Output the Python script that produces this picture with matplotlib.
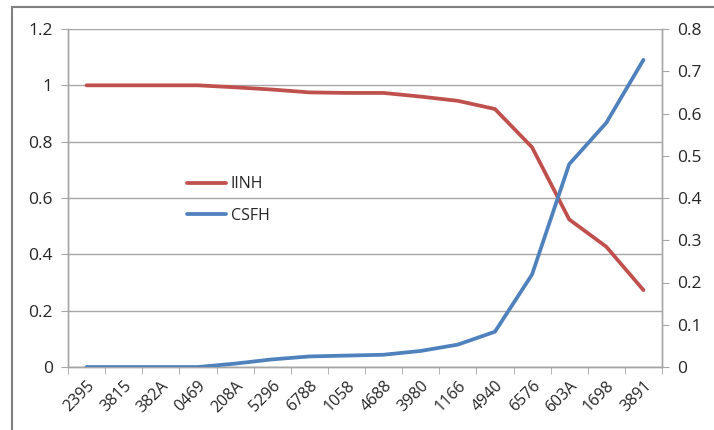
import matplotlib
matplotlib.use("Agg")
import matplotlib.pyplot as plt
from matplotlib.patches import Rectangle
import numpy as np

categories = ["2395", "3815", "382A", "0469", "208A", "5296", "6788", "1058",
              "4688", "3980", "1166", "4940", "6576", "603A", "1698", "3891"]
iinh = [1.0, 1.0, 1.0, 1.0, 0.993, 0.985, 0.975, 0.973, 0.973, 0.96, 0.945,
        0.916, 0.78, 0.524, 0.427, 0.273]
csfh = [0.0, 0.0, 0.0, 0.0, 0.008, 0.018, 0.025, 0.027, 0.029, 0.038, 0.053,
        0.0835, 0.219, 0.48, 0.578, 0.727]
left_ticks = [0, 0.2, 0.4, 0.6, 0.8, 1.0, 1.2]
left_labels = ["0", "0.2", "0.4", "0.6", "0.8", "1", "1.2"]
right_ticks = [0, 0.1, 0.2, 0.3, 0.4, 0.5, 0.6, 0.7, 0.8]
right_labels = ["0", "0.1", "0.2", "0.3", "0.4", "0.5", "0.6", "0.7", "0.8"]

plt.rcParams['font.family'] = ['Open Sans', 'DejaVu Sans']
W, H = 714, 430
fig = plt.figure(figsize=(W / 100, H / 100), dpi=100)
ax = fig.add_axes([68 / W, 1 - 367 / H, (662 - 68) / W, (367 - 29) / H])
ax2 = ax.twinx()

red = "#C0504D"
blue = "#4F81BD"
grid_c = "#A6A6A6"
axis_c = "#A6A6A6"
txt_c = "#262626"

x = np.arange(len(categories))
l1, = ax.plot(x, iinh, color=red, lw=2.7, label="IINH", solid_capstyle='round', zorder=3)
l2, = ax2.plot(x, csfh, color=blue, lw=2.7, label="CSFH", solid_capstyle='round', zorder=3)

ax.set_xlim(-0.5, len(categories) - 0.5)
ax.set_ylim(0, 1.2)
ax2.set_ylim(0, 0.8)

ax.set_yticks(left_ticks)
ax.set_yticklabels(left_labels)
ax2.set_yticks(right_ticks)
ax2.set_yticklabels(right_labels)

ax.set_xticks(x)
ax.set_xticklabels(categories, rotation=45, ha='right', rotation_mode='anchor')
ax.set_xticks(np.arange(-0.5, len(categories)), minor=True)
ax.tick_params(axis='x', which='major', length=0, pad=8, labelsize=11.5, labelcolor=txt_c)
ax.tick_params(axis='x', which='minor', length=5, color=axis_c, direction='out')
ax.tick_params(axis='y', length=5, color=axis_c, labelsize=12.5, labelcolor=txt_c, pad=6)
ax2.tick_params(axis='y', length=5, color=axis_c, labelsize=12.5, labelcolor=txt_c, pad=6)

ax.grid(axis='y', color=grid_c, lw=1)
ax.set_axisbelow(True)
for a in (ax, ax2):
    a.spines['top'].set_visible(False)
    for s in ('left', 'right', 'bottom'):
        a.spines[s].set_color(axis_c)
        a.spines[s].set_linewidth(1)

leg = ax.legend(handles=[l1, l2], loc='upper left',
                bbox_to_anchor=((181 - 68) / (662 - 68), (367 - 170) / (367 - 29)),
                frameon=False, fontsize=11.5, handlelength=2.4, handletextpad=0.3,
                labelspacing=0.95, borderaxespad=0)
for t in leg.get_texts():
    t.set_color(txt_c)

fig.patches.append(Rectangle((12 / W, -0.1), 1.2, 1 - 7 / H + 0.1, transform=fig.transFigure,
                             fill=False, edgecolor="#808080", lw=1.5))

fig.savefig("out.png", dpi=100)
